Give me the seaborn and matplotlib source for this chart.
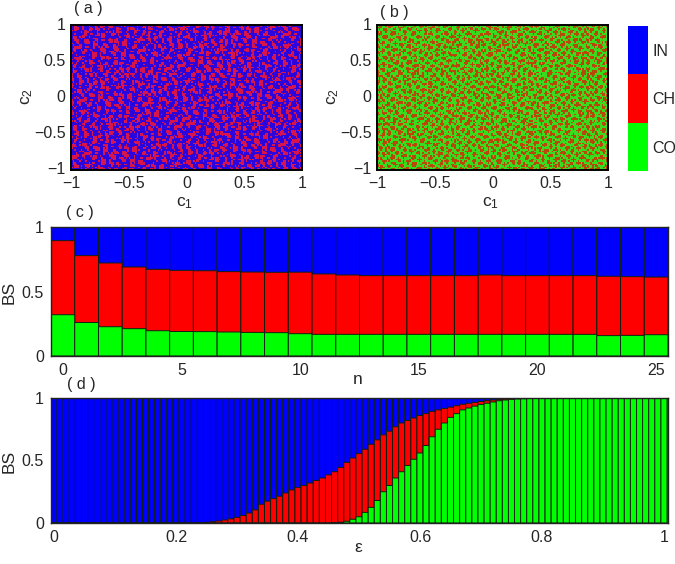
import numpy as np
import matplotlib
matplotlib.use("Agg")
import matplotlib.pyplot as plt
from matplotlib.colors import ListedColormap
import seaborn as sns

BLUE = "#0000ff"
RED = "#ff0000"
GREEN = "#00ff00"
EDGE = "#102010"
W, H = 675, 564

# panel (c): cumulative heights read per bar
n_values = list(range(26))
c_co = [0.32, 0.26, 0.227, 0.212, 0.196, 0.19, 0.189, 0.186, 0.183, 0.181, 0.173, 0.168, 0.168,
        0.168, 0.168, 0.168, 0.168, 0.168, 0.168, 0.168, 0.168, 0.168, 0.168, 0.158, 0.16, 0.165]
c_ch = [0.894, 0.778, 0.721, 0.69, 0.672, 0.664, 0.661, 0.654, 0.651, 0.649, 0.65, 0.636, 0.628,
        0.623, 0.623, 0.623, 0.623, 0.623, 0.628, 0.623, 0.623, 0.623, 0.623, 0.618, 0.615, 0.612]
c_in = [1.0] * 26

# panel (d): cumulative heights estimated per bar, eps = 0, 0.01, ... 1
eps_values = [i / 100 for i in range(101)]
d_ch = [0.0] * 24 + [
    0.002, 0.005, 0.01, 0.016, 0.024, 0.033, 0.045, 0.06, 0.08, 0.105, 0.15, 0.175, 0.195, 0.215,
    0.24, 0.265, 0.285, 0.30, 0.32, 0.34, 0.36, 0.385, 0.41, 0.445, 0.485, 0.52, 0.555, 0.59,
    0.63, 0.665, 0.705, 0.735, 0.77, 0.80, 0.82, 0.84, 0.86, 0.875, 0.893, 0.905, 0.917, 0.927,
    0.938, 0.95, 0.958, 0.965, 0.972, 0.978, 0.984, 0.989, 0.992, 0.995, 0.997, 0.998, 0.999,
] + [1.0] * 22
d_co = [0.0] * 46 + [
    0.002, 0.006, 0.014, 0.03, 0.05, 0.085, 0.125, 0.18, 0.25, 0.30, 0.36, 0.41, 0.46, 0.51,
    0.56, 0.62, 0.69, 0.75, 0.80, 0.845, 0.875, 0.905, 0.92, 0.935, 0.948, 0.958, 0.968, 0.978,
    0.984, 0.989, 0.992, 0.994, 0.996, 0.997, 0.998, 0.999,
] + [1.0] * 19
d_in = [1.0] * 101

# panels (a), (b): the speckle is too fine to read cell by cell, so these are
# hand-typed stand-ins for the texture, not the real cell values.
# a: # = CH, . = IN    b: # = CH, . = CO
speckle_a = [
    "..##.......#...........###.....#.........#...##.",
    "..###..#.......##.......##...........##.....###.",
    "...#.......#...###..#..............#.###......#.",
    "#.......##......#.........#.##.........#..#.....",
    "......#.###.............#...###...#..........##.",
    "..#.....##...#.....##........#.........#.....#..",
    ".......#.........#.###...#.......###........#...",
    ".###.......#.......##.........#...##..#.........",
    "..##..#.......###.......#.................##...#",
    "...#......#....##...#......##.....#......###....",
    ".........###....#........#.###.........#..#.....",
    "#...#.....##.........#.......#...##.........#...",
    "......#.......#.....###...#.....###....##.......",
    "..##.....#.......#...##...........#...###....#..",
    ".###..........#.............##.....#...#......#.",
    "..#...#.##..........##.....###............##....",
    ".......###...#.....###..#...#....#...#...###....",
    "#.......#.........#.#..........##.........#...#.",
    "...#.......#..##...........#...###....#.........",
    ".......#.....###...#..##.........#...###...##...",
    "..###.........#.......###...#.........##...###..",
    "...##..#...#.......#...#.........#............#.",
    "....#......##..........................##.#.....",
    "#......#...###....#..##....#..###.....###.......",
    "...#........#.......###.......##...#...#.....#..",
    ".......##.......#....#...#.....#.........#......",
    "..#...###...#.................#....##.......##...",
    "......#..........###....#.........###...#..###..",
    ".#........#.#.....##........##.....#.........#..",
    "......#.......#.........#..###..#.......#.......",
]
speckle_b = [
    ".##..#.###...#..##.....#..###.#...##..#..###..#.",
    "###....##..#.####..#.##....#....####.....##..##.",
    ".#..##....##..#....###..#....##..#...##.....###.",
    "....###.#.....#.##..#....###.###....####.#...#..",
    "#.#..#...###....###...##..#...#..#...#....##....",
    "###.....####.#...#...###.....##.###.....#.###.#.",
    ".#..###..#.....#.....##..##.......#..##....#..##",
    "...####.....###..##.....####.#.##...###..#...###",
    "#...##..#.#..##.###.#....#...###.....#..###...#.",
    "##.....###....#..#..###.....#.#...#.....##.##...",
    ".#.##...#..#.......##.#..##....#.###.#.....###.#",
    "..###.....###.##.#.....####..#....##..###...#..#",
    "#..#..##...#..###..##...#...###.#....###..#....#",
    "##...###.#.....#..###.#...#..#..###...#..###.##.",
    ".#.#..#...###.......#..###.....####..#....#..###",
    "...##....####.#.##....###..#.#..#...###.#.....#.",
    "#.###..#..#....###..#..#..###......##....##.#...",
    "##.#..###.....#.#..###....##..##.#...#..###.##..",
    ".#.....##.#.###.....#..#.....###..#.###..#...###",
    "...###....#..#..###...###.#...#..##..#.....#..#.",
    "#...###.##...#.####..#..#..##...###.....###.....",
    "###..#..###.....##.....#..####...#..#.#..##.##..",
    ".#.....#.#..##.....###.##...#..#...###.....####.",
    "...##.....####.#..####....#...###...#..##...#...",
    "#.####.#...##..#...#...###.#...#..#...####.....#",
    "##..#..###....###.....####..##...###...#..###.##",
    ".#.....##..#...#..##...#...###.#..#..#....##..#.",
    "..###.....###.....###.#..#..#...##..###.#....#..",
    "#..##.#..##..##.#..#...###....####...#..###..###",
    "##....###....###...##.##.#..#..#..#.....##.#..#.",
]
c_ticks = [-1, -0.5, 0, 0.5, 1]
c_tick_labels = ["\u22121", "\u22120.5", "0", "0.5", "1"]
state_labels = ["IN", "CH", "CO"]


def px_axes(fig, left, top, right, bottom):
    return fig.add_axes([left / W, 1 - bottom / H, (right - left) / W, (bottom - top) / H])


def speckle_grid(rows, thicken=False):
    cell = np.array([[1 if ch == "#" else 0 for ch in row.ljust(48, ".")[:48]] for row in rows])
    if thicken:
        # panel (a) has more red than the typed block, overlay it on itself turned round
        cell = cell | cell[::-1, ::-1]
    # repeat the typed block with offsets so the seams are less obvious
    blocks = [np.roll(cell, (k * 11, k * 17), axis=(0, 1)) for k in range(9)]
    return np.vstack([np.hstack(blocks[:3]), np.hstack(blocks[3:6]), np.hstack(blocks[6:])])


def draw_speckle(ax, grid, colors):
    sns.heatmap(grid, cmap=ListedColormap(colors), vmin=0, vmax=1, cbar=False, ax=ax)
    ny, nx = grid.shape
    ax.set_xticks([(v + 1) / 2 * nx for v in c_ticks])
    ax.set_xticklabels(c_tick_labels, rotation=0)
    ax.set_yticks([(1 - v) / 2 * ny for v in c_ticks])
    ax.set_yticklabels(c_tick_labels, rotation=0)
    ax.tick_params(length=0, pad=4)
    for side in ax.spines.values():
        side.set_visible(True)
        side.set_linewidth(1.4)
        side.set_color("black")


def draw_stack(ax, x, layers):
    # back to front, each layer is a cumulative height
    for values, color in layers:
        sns.barplot(x=x, y=values, native_scale=True, width=1, color=color, saturation=1,
                    edgecolor=EDGE, linewidth=0.7, ax=ax, errorbar=None)
    # snapping drops some of the thin edges
    for bar in ax.patches:
        bar.set_snap(False)
    ax.set_ylim(0, 1)
    ax.set_yticks([0, 0.5, 1])
    ax.set_yticklabels(["0", "0.5", "1"])
    ax.tick_params(length=0, pad=5)
    for side in ax.spines.values():
        side.set_visible(True)
        side.set_linewidth(1.0)
        side.set_color("#222222")


def label(fig, x, y, text, **kw):
    fig.text(x / W, 1 - y / H, text, ha="center", va="center", **kw)


def main():
    sns.set_style("white")
    plt.rcParams["font.family"] = ["Liberation Sans", "DejaVu Sans"]
    plt.rcParams["font.size"] = 11.5
    plt.rcParams["xtick.labelsize"] = 11.5
    plt.rcParams["ytick.labelsize"] = 11.5
    plt.rcParams["mathtext.fontset"] = "custom"
    plt.rcParams["mathtext.rm"] = "Liberation Sans"
    plt.rcParams["mathtext.default"] = "regular"
    fig = plt.figure(figsize=(W / 100, H / 100), dpi=100)

    # top row speckle panels
    ax_a = px_axes(fig, 71, 25, 302, 170)
    draw_speckle(ax_a, speckle_grid(speckle_a, thicken=True), ["#2c04dc", "#d8144c"])
    ax_b = px_axes(fig, 377, 25, 608, 170)
    draw_speckle(ax_b, speckle_grid(speckle_b), ["#38dc1c", "#b84808"])

    # state key
    ax_key = px_axes(fig, 628, 26, 648, 171)
    sns.heatmap(np.array([[2], [1], [0]]), cmap=ListedColormap([GREEN, RED, BLUE]),
                cbar=False, xticklabels=False, ax=ax_key)
    ax_key.yaxis.tick_right()
    ax_key.set_yticklabels(state_labels, rotation=0)
    ax_key.tick_params(length=0, pad=3)

    # stacked bars against n
    ax_c = px_axes(fig, 51, 227, 668, 356)
    draw_stack(ax_c, n_values, [(c_in, BLUE), (c_ch, RED), (c_co, GREEN)])
    ax_c.set_xlim(-0.5, 25.5)
    ax_c.set_xticks([0, 5, 10, 15, 20, 25])
    ax_c.set_xticklabels(["0", "5", "10", "15", "20", "25"])

    # stacked bars against epsilon
    ax_d = px_axes(fig, 51, 398, 668, 523)
    draw_stack(ax_d, eps_values, [(d_in, BLUE), (d_ch, RED), (d_co, GREEN)])
    ax_d.set_xlim(-0.005, 1.0066)
    ax_d.set_xticks([0, 0.2, 0.4, 0.6, 0.8, 1])
    ax_d.set_xticklabels(["0", "0.2", "0.4", "0.6", "0.8", "1"])

    label(fig, 88, 9, "( a )")
    label(fig, 394, 12, "( b )")
    label(fig, 80, 213, "( c )")
    label(fig, 81, 385, "( d )")
    label(fig, 185, 203, "$c_1$", fontsize=12.5)
    label(fig, 491, 203, "$c_1$", fontsize=12.5)
    label(fig, 27, 97, "$c_2$", rotation=90, fontsize=12.5)
    label(fig, 333, 97, "$c_2$", rotation=90, fontsize=12.5)
    label(fig, 9, 292, "BS", rotation=90, fontsize=12.5)
    label(fig, 9, 461, "BS", rotation=90, fontsize=12.5)
    label(fig, 358, 379, "n", fontsize=12.5)
    label(fig, 358, 548, "\u03b5", fontsize=12.5)

    fig.savefig("out.png", dpi=100)


if __name__ == "__main__":
    main()
